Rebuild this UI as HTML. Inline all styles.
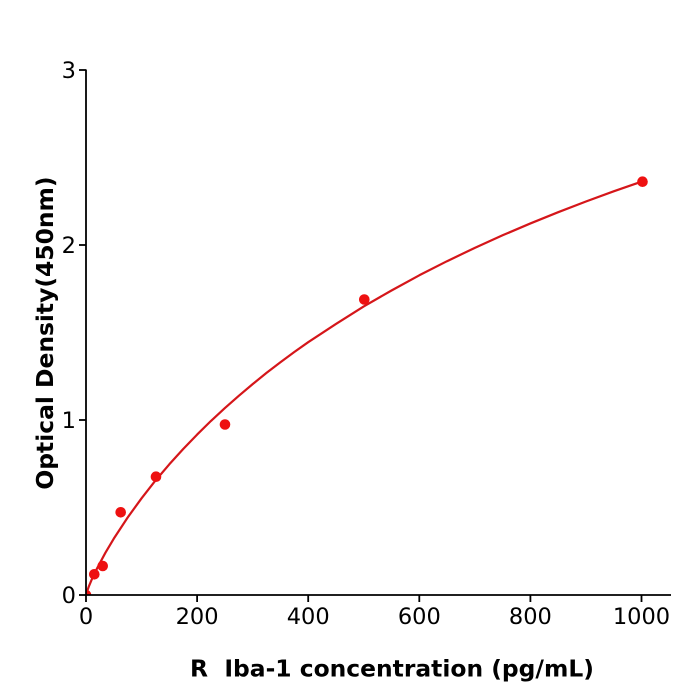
<!DOCTYPE html>
<html>
<head>
<meta charset="utf-8">
<style>
  html, body { margin: 0; padding: 0; background: #ffffff; }
  svg { display: block; }
  text { font-family: "DejaVu Sans", "Liberation Sans", sans-serif; fill: #000; }
</style>
</head>
<body>
<svg width="700" height="700" viewBox="0 0 700 700" xmlns="http://www.w3.org/2000/svg">
  <rect x="0" y="0" width="700" height="700" fill="#ffffff"/>
  <defs>
    <clipPath id="plot">
      <rect x="86" y="40" width="600" height="555"/>
    </clipPath>
  </defs>

  <!-- fitted curve -->
  <polyline clip-path="url(#plot)" fill="none" stroke="#d5161a" stroke-width="2.2" stroke-linejoin="round"
    points="86,595 87.4,590.5 88.78,586.58 91.56,579.95 97.11,568.24 105.44,552.69 113.78,538.65 127.66,517.48 141.55,498.3 155.4,480.6 169.33,464.29 183.2,449 197.1,434.58 211,420.9 224.88,408.08 238.8,395.8 252.65,384.13 266.5,372.9 280.43,362.25 294.3,352 308.2,342.18 336,323.9 363.75,306.43 391.5,290.5 419.3,275.28 447,261.2 474.85,247.85 502.6,235.3 530.4,223.44 558.2,212.2 585.95,201.5 613.7,191.3 641.5,181.65"/>

  <!-- data points -->
  <g fill="#ee1111">
    <circle clip-path="url(#plot)" cx="86" cy="595" r="5.3"/>
    <circle cx="94.3" cy="574.3" r="5.3"/>
    <circle cx="102.7" cy="566" r="5.3"/>
    <circle cx="120.7" cy="512.3" r="5.3"/>
    <circle cx="156" cy="476.7" r="5.3"/>
    <circle cx="225" cy="424.5" r="5.3"/>
    <circle cx="364.3" cy="299.5" r="5.3"/>
    <circle cx="642.5" cy="181.7" r="5.3"/>
  </g>

  <!-- axes -->
  <g stroke="#000" stroke-width="1.8" fill="none">
    <line x1="86" y1="69.5" x2="86" y2="595.9"/>
    <line x1="85.1" y1="595" x2="671" y2="595"/>
    <!-- y ticks -->
    <line x1="79" y1="595" x2="86" y2="595"/>
    <line x1="79" y1="420" x2="86" y2="420"/>
    <line x1="79" y1="245" x2="86" y2="245"/>
    <line x1="79" y1="70" x2="86" y2="70"/>
    <!-- x ticks -->
    <line x1="86" y1="595" x2="86" y2="602"/>
    <line x1="197.1" y1="595" x2="197.1" y2="602"/>
    <line x1="308.2" y1="595" x2="308.2" y2="602"/>
    <line x1="419.3" y1="595" x2="419.3" y2="602"/>
    <line x1="530.4" y1="595" x2="530.4" y2="602"/>
    <line x1="641.5" y1="595" x2="641.5" y2="602"/>
  </g>

  <!-- y tick labels -->
  <g font-size="22.5" text-anchor="end">
    <text x="76" y="603">0</text>
    <text x="76" y="428">1</text>
    <text x="76" y="253">2</text>
    <text x="76" y="78">3</text>
  </g>

  <!-- x tick labels -->
  <g font-size="22.5" text-anchor="middle">
    <text x="86" y="624">0</text>
    <text x="197.1" y="624">200</text>
    <text x="308.2" y="624">400</text>
    <text x="419.3" y="624">600</text>
    <text x="530.4" y="624">800</text>
    <text x="641.5" y="624">1000</text>
  </g>

  <!-- axis titles -->
  <text x="392" y="676.5" font-size="23.4" font-weight="bold" text-anchor="middle" xml:space="preserve">R  Iba-1 concentration (pg/mL)</text>
  <text transform="translate(53,333) rotate(-90)" font-size="23.4" font-weight="bold" text-anchor="middle">Optical Density(450nm)</text>
</svg>
</body>
</html>
